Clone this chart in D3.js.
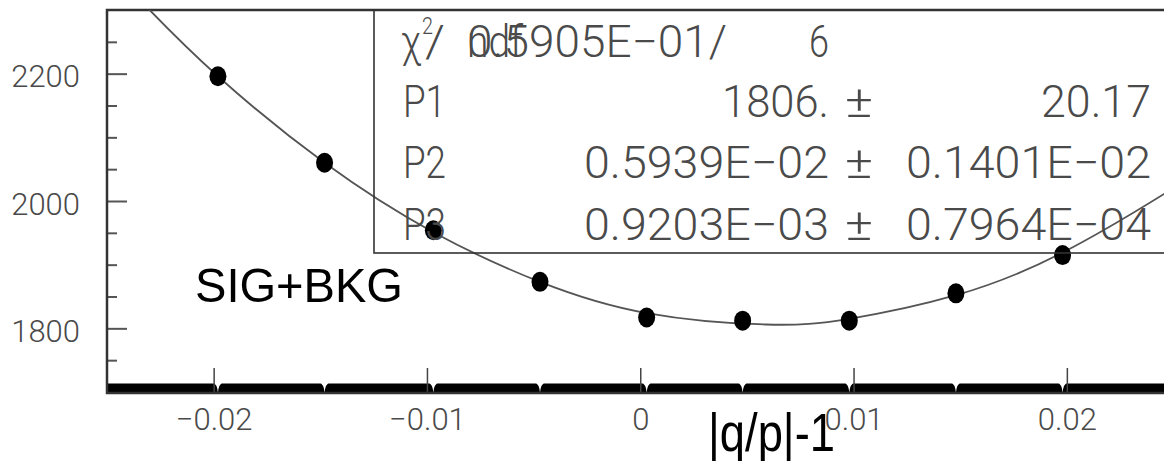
<!DOCTYPE html>
<html>
<head>
<meta charset="utf-8">
<script src="https://cdn.jsdelivr.net/npm/d3@7/dist/d3.min.js"></script>
<style>
  html, body { margin: 0; padding: 0; background: #fff; }
  svg { display: block; }
</style>
</head>
<body>
<svg id="chart" width="1164" height="461"></svg>
<script>
// ---- data ----
const xData = [-0.0198, -0.0148, -0.0097, -0.0047, 0.0003, 0.0048, 0.0098, 0.0148, 0.0198];
const yData = [2196, 2060, 1954, 1873, 1817, 1812, 1812, 1855, 1915];
// fitted curve
const fitX = [-0.0240, -0.0230, -0.0198, -0.0148, -0.0097, -0.0047, 0.0003, 0.0059, 0.0098, 0.0148, 0.0198, 0.0246, 0.0255];
const fitY = [2335, 2300, 2196, 2060, 1951, 1873, 1824, 1806, 1815, 1852, 1919, 2012, 2032];
const xTicks = [-0.02, -0.01, 0, 0.01, 0.02];
const xTickLabels = ["\u22120.02", "\u22120.01", "0", "0.01", "0.02"];
const yTicksMajor = [1800, 2000, 2200];
const yTickLabels = ["1800", "2000", "2200"];
const yTicksMinor = [1750, 1850, 1900, 1950, 2050, 2100, 2150, 2250];
const statNames = ["P1", "P2", "P3"];
const statValues = ["1806.", "0.5939E\u221202", "0.9203E\u221203"];
const statErrors = ["20.17", "0.1401E\u221202", "0.7964E\u221204"];
const chi2Text = "0.5905E\u221201/";
const ndfText = "6";

const svg = d3.select("#chart");
const x = d3.scaleLinear().domain([-0.025, 0.025]).range([107, 1173.5]);
const y = d3.scaleLinear().domain([1700, 2300]).range([392, 10]);
const frameTop = 10, frameBottom = 393, frameLeft = 107, frameRight = 1173.5;

const statFont = "Roboto, 'DejaVu Sans', sans-serif";
const gray = "#4a4a4a";

svg.append("defs").append("clipPath").attr("id", "clip")
  .append("rect").attr("x", frameLeft).attr("y", frameTop)
  .attr("width", frameRight - frameLeft).attr("height", frameBottom - frameTop);

// ---- black band along the x axis with notches at the data positions ----
svg.append("rect")
  .attr("x", frameLeft).attr("y", 383.5)
  .attr("width", frameRight - frameLeft).attr("height", frameBottom - 383.5)
  .attr("fill", "#000");
svg.append("g").selectAll("path").data(xData).join("path")
  .attr("d", d => {
    const c = x(d);
    return `M${c-6},382 Q${c-0.6},383.5 ${c},393 Q${c+0.6},383.5 ${c+6},382 Z`;
  })
  .attr("fill", "#fff");

// ---- y axis ----
const yMajor = d3.axisLeft(y).tickValues(yTicksMajor).tickSizeInner(-20).tickSizeOuter(0).tickPadding(27)
  .tickFormat((d, i) => yTickLabels[i]);
const gy = svg.append("g").attr("transform", `translate(${frameLeft},0)`).call(yMajor);
gy.select(".domain").remove();
gy.selectAll(".tick line").attr("stroke", "#555").attr("stroke-width", 2);
gy.selectAll(".tick text")
  .attr("font-family", statFont).attr("font-weight", 300)
  .attr("font-size", 31).attr("fill", gray).attr("dy", "0.42em");

const yMinor = d3.axisLeft(y).tickValues(yTicksMinor).tickSizeInner(-10).tickSizeOuter(0).tickFormat("");
const gym = svg.append("g").attr("transform", `translate(${frameLeft},0)`).call(yMinor);
gym.select(".domain").remove();
gym.selectAll(".tick line").attr("stroke", "#555").attr("stroke-width", 2);

// ---- x axis ----
const xAxis = d3.axisBottom(x).tickValues(xTicks).tickSizeInner(-25).tickSizeOuter(0).tickPadding(15)
  .tickFormat((d, i) => xTickLabels[i]);
const gx = svg.append("g").attr("transform", `translate(0,${frameBottom})`).call(xAxis);
gx.select(".domain").remove();
gx.selectAll(".tick line").attr("stroke", "#444").attr("stroke-width", 1.5);
gx.selectAll(".tick text")
  .attr("font-family", statFont).attr("font-weight", 300)
  .attr("font-size", 31).attr("fill", gray);

// ---- frame ----
svg.append("path")
  .attr("d", `M${frameRight},${frameTop} H${frameLeft} V${frameBottom} H${frameRight}`)
  .attr("fill", "none").attr("stroke", "#333").attr("stroke-width", 2.5);

// ---- fit curve ----
const line = d3.line().x((d, i) => x(fitX[i])).y(d => y(d)).curve(d3.curveNatural);
svg.append("path")
  .datum(fitY)
  .attr("clip-path", "url(#clip)")
  .attr("d", line)
  .attr("fill", "none").attr("stroke", "#555").attr("stroke-width", 1.8);

// ---- points ----
svg.append("g").selectAll("ellipse").data(yData).join("ellipse")
  .attr("cx", (d, i) => x(xData[i])).attr("cy", d => y(d))
  .attr("rx", 8.5).attr("ry", 10).attr("fill", "#000");

// ---- stats box ----
svg.append("rect")
  .attr("x", 374).attr("y", frameTop).attr("width", 810).attr("height", 253 - frameTop)
  .attr("fill", "none").attr("stroke", "#333").attr("stroke-width", 1.6);

const st = svg.append("g").attr("font-family", statFont).attr("font-weight", 300)
  .attr("fill", gray).attr("font-size", 44);
function sText(str, xs, base, len, anchor) {
  const t = st.append("text").attr("x", xs).attr("y", base).text(str);
  if (len) t.attr("textLength", len).attr("lengthAdjust", "spacingAndGlyphs");
  if (anchor) t.attr("text-anchor", anchor);
  return t;
}
// row 1
sText("\u03c7", 401, 57, 20);
sText("2", 422, 34, 11).attr("font-size", 24);
sText("/", 425, 57, 20);
sText("ndf", 467, 57, 56);
sText(chi2Text, 467, 57, 260);
sText(ndfText, 809, 57, 20);
// rows 2..4
const bases = [117, 178, 240];
statNames.forEach((n, i) => {
  sText(n, 403, bases[i], 43);
  const vw = statValues[i].length > 6 ? 245 : 107;
  sText(statValues[i], 829 - vw, bases[i], vw);
  sText("\u00b1", 845, bases[i], 28);
  const ew = statErrors[i].length > 6 ? 245 : 110;
  sText(statErrors[i], 1151 - ew, bases[i], ew);
});

// ---- labels ----
svg.append("text").attr("x", 195).attr("y", 302)
  .attr("font-family", "'Liberation Sans', Arial, sans-serif").attr("font-size", 49)
  .attr("textLength", 208).attr("lengthAdjust", "spacingAndGlyphs")
  .attr("fill", "#000").text("SIG+BKG");
svg.append("text").attr("x", 708).attr("y", 451)
  .attr("font-family", "'Liberation Sans', Arial, sans-serif").attr("font-size", 54)
  .attr("textLength", 127).attr("lengthAdjust", "spacingAndGlyphs")
  .attr("fill", "#000").text("|q/p|-1");
</script>
</body>
</html>
